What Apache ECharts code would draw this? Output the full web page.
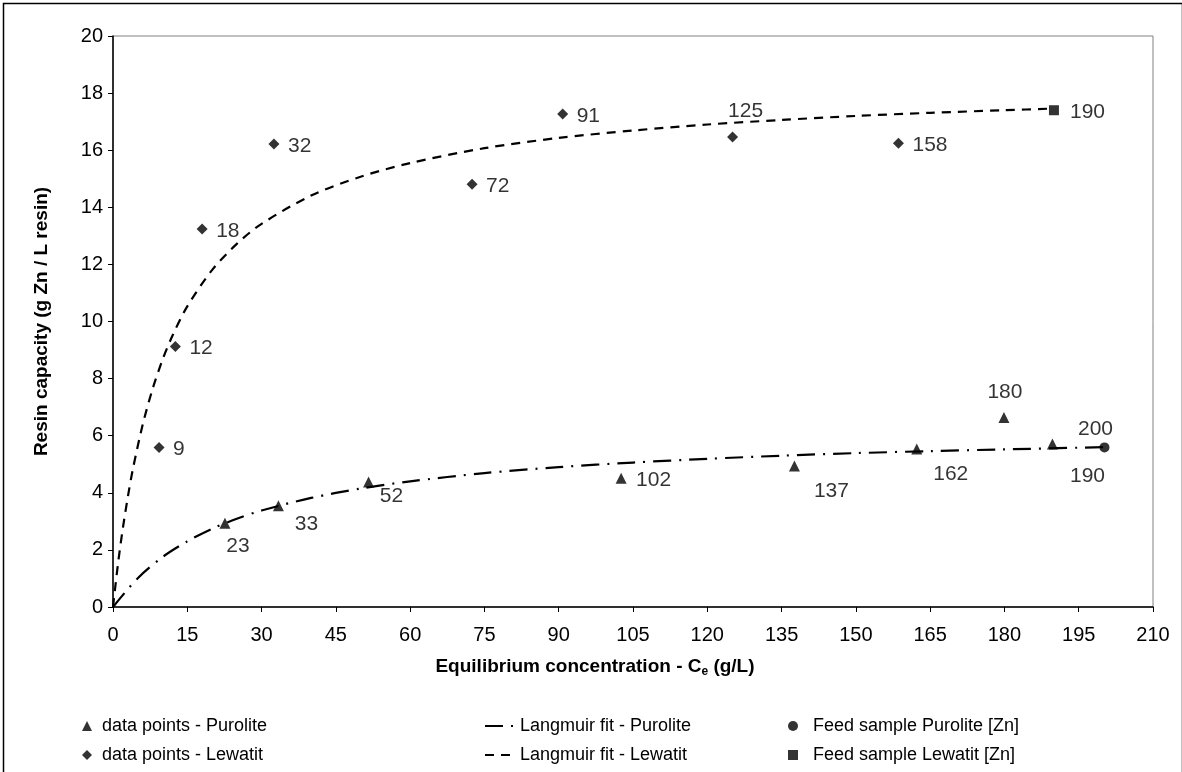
<!DOCTYPE html>
<html><head><meta charset="utf-8">
<script src="https://cdn.jsdelivr.net/npm/echarts@6/dist/echarts.min.js"></script>
<style>html,body{margin:0;padding:0;background:#fff}#c{width:1182px;height:772px}</style>
</head><body><div id="c"></div>
<script>
// ---- data ----
const lewatitX = [9.3, 12.6, 18.0, 32.5, 72.5, 90.8, 125.1, 158.6];
const lewatitY = [5.59, 9.12, 13.24, 16.22, 14.81, 17.27, 16.46, 16.24];
const lewatitLabels = ['9', '12', '18', '32', '72', '91', '125', '158'];

const purX = [22.6, 33.4, 51.6, 102.6, 137.6, 162.3, 179.9, 189.7];
const purY = [2.93, 3.55, 4.38, 4.51, 4.94, 5.53, 6.64, 5.71];
const purLabels = ['23', '33', '52', '102', '137', '162', '180', '190'];

const feedPurX = [200.2];
const feedPurY = [5.59];
const feedPurLabels = ['200'];

const feedLewX = [190];
const feedLewY = [17.4];
const feedLewLabels = ['190'];

const fitLewX = [0, 1, 2, 3, 4, 6, 8, 10, 12, 15, 20, 25, 30, 40, 50, 60, 75, 90, 105, 120, 135, 150, 165, 180, 190];
const fitLewY = [0, 1.50, 2.77, 3.86, 4.82, 6.39, 7.64, 8.66, 9.50, 10.53, 11.80, 12.72, 13.42, 14.41, 15.07, 15.55, 16.07, 16.43, 16.69, 16.90, 17.06, 17.20, 17.31, 17.40, 17.46];

const fitPurX = [0, 5, 10, 15, 20, 25, 30, 40, 50, 60, 75, 90, 105, 120, 135, 150, 165, 180, 200];
const fitPurY = [0, 1.01, 1.75, 2.30, 2.74, 3.09, 3.38, 3.82, 4.15, 4.40, 4.69, 4.90, 5.06, 5.19, 5.30, 5.39, 5.46, 5.52, 5.60];

const xTickMin = 0, xTickMax = 210, xTickStep = 15;
const yTickMin = 0, yTickMax = 20, yTickStep = 2;

const names = {
  pur: 'data points - Purolite',
  lew: 'data points - Lewatit',
  fitPur: 'Langmuir fit - Purolite',
  fitLew: 'Langmuir fit - Lewatit',
  feedPur: 'Feed sample Purolite [Zn]',
  feedLew: 'Feed sample Lewatit [Zn]'
};

// ---- styling (label placement per point) ----
const FONT = "'Liberation Sans', Arial, sans-serif";
const rightLbl = {align: 'left', offset: [14, 2]};
const lewPlace = {'125': {align: 'center', offset: [13, -26]}};
const purPlace = {
  '23': {align: 'center', offset: [13, 23]},
  '33': {align: 'center', offset: [28, 19]},
  '52': {align: 'center', offset: [23, 14]},
  '102': {align: 'left', offset: [15, 2]},
  '137': {align: 'center', offset: [37, 25]},
  '162': {align: 'center', offset: [34, 25]},
  '180': {align: 'center', offset: [1, -25]},
  '190': {align: 'center', offset: [35, 32]}
};
const feedPurPlace = {'200': {align: 'center', offset: [-9, -18]}};
const feedLewPlace = {'190': {align: 'left', offset: [16, 2]}};

function pts(xs, ys, labels, place) {
  return xs.map((x, i) => {
    const p = (place && place[labels[i]]) || rightLbl;
    return {
      value: [x, ys[i]],
      label: {
        show: true, formatter: labels[i], position: 'inside',
        align: p.align, verticalAlign: 'middle', offset: p.offset,
        color: '#000', fontSize: 21, fontFamily: FONT
      }
    };
  });
}
function line(xs, ys) { return xs.map((x, i) => [x, ys[i]]); }

const chart = echarts.init(document.getElementById('c'), null, {renderer: 'canvas'});
const legendText = {color: '#000', fontSize: 18, fontFamily: FONT, lineHeight: 20};
const option = {
  animation: false,
  backgroundColor: '#fff',
  title: {
    text: '{a|Equilibrium concentration - C}{s|e}{a| (g/L)}',
    left: 590, textAlign: 'center', top: 651,
    textStyle: {
      rich: {
        a: {fontSize: 19, fontWeight: 'bold', fontFamily: FONT, color: '#000'},
        s: {fontSize: 12, fontWeight: 'bold', fontFamily: FONT, color: '#000', verticalAlign: 'bottom', padding: [10, 0, 0, 0]}
      }
    }
  },
  grid: {left: 113, right: 29, top: 36, bottom: 165, show: true, borderColor: '#808080', borderWidth: 1},
  xAxis: {
    type: 'value', min: xTickMin, max: xTickMax, interval: xTickStep,
    axisLine: {show: true, lineStyle: {color: '#000', width: 1.5}},
    axisTick: {show: true, inside: false, length: 5, lineStyle: {color: '#000'}},
    axisLabel: {color: '#000', fontSize: 20, fontFamily: FONT, margin: 18},
    splitLine: {show: false}
  },
  yAxis: {
    type: 'value', min: yTickMin, max: yTickMax, interval: yTickStep,
    name: 'Resin capacity (g Zn / L resin)', nameLocation: 'middle', nameGap: 62, nameRotate: 90,
    nameTextStyle: {color: '#000', fontSize: 19, fontWeight: 'bold', fontFamily: FONT},
    axisLine: {show: true, lineStyle: {color: '#000', width: 1.5}},
    axisTick: {show: true, inside: false, length: 5, lineStyle: {color: '#000'}},
    axisLabel: {color: '#000', fontSize: 20, fontFamily: FONT, margin: 10},
    splitLine: {show: false}
  },
  legend: [
    {data: [names.pur, names.lew], orient: 'vertical', left: 77, top: 711, itemWidth: 10, itemHeight: 10, itemGap: 9,
     textStyle: Object.assign({padding: [0, 0, 0, 5]}, legendText), selectedMode: false},
    {data: [names.fitPur, names.fitLew], orient: 'vertical', left: 479, top: 711, itemWidth: 30, itemHeight: 10, itemGap: 9,
     itemStyle: {color: 'rgba(0,0,0,0)', borderWidth: 0}, textStyle: legendText, selectedMode: false},
    {data: [names.feedPur, names.feedLew], orient: 'vertical', left: 783, top: 711, itemWidth: 10, itemHeight: 10, itemGap: 9,
     textStyle: Object.assign({padding: [0, 0, 0, 10]}, legendText), selectedMode: false}
  ],
  graphic: [{
    type: 'rect', left: 1, top: 1, silent: true,
    shape: {width: 1179, height: 800},
    style: {fill: 'none', stroke: '#000', lineWidth: 1.5}
  }],
  series: [
    {name: names.fitPur, type: 'line', data: line(fitPurX, fitPurY), showSymbol: false, symbol: 'none', smooth: 0.3,
     lineStyle: {color: '#000', width: 2.2, type: [18, 8, 2, 8]}, itemStyle: {color: '#000'}, z: 2},
    {name: names.fitLew, type: 'line', data: line(fitLewX, fitLewY), showSymbol: false, symbol: 'none', smooth: 0.3,
     lineStyle: {color: '#000', width: 2.2, type: [9, 7]}, itemStyle: {color: '#000'}, z: 2},
    {name: names.pur, type: 'scatter', symbol: 'triangle', symbolSize: 11, itemStyle: {color: '#000'},
     data: pts(purX, purY, purLabels, purPlace), z: 3},
    {name: names.lew, type: 'scatter', symbol: 'diamond', symbolSize: 11, itemStyle: {color: '#000'},
     data: pts(lewatitX, lewatitY, lewatitLabels, lewPlace), z: 3},
    {name: names.feedPur, type: 'scatter', symbol: 'circle', symbolSize: 10, itemStyle: {color: '#000'},
     data: pts(feedPurX, feedPurY, feedPurLabels, feedPurPlace), z: 3},
    {name: names.feedLew, type: 'scatter', symbol: 'rect', symbolSize: 10, itemStyle: {color: '#000'},
     data: pts(feedLewX, feedLewY, feedLewLabels, feedLewPlace), z: 3}
  ]
};
chart.setOption(option);
</script>
</body></html>
